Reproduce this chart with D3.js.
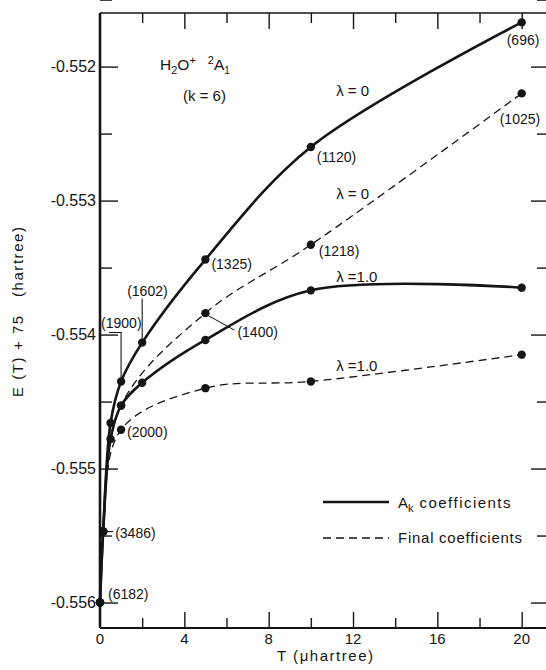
<!DOCTYPE html>
<html>
<head>
<meta charset="utf-8">
<script src="https://cdn.jsdelivr.net/npm/d3@7"></script>
<style>
  html, body { margin: 0; padding: 0; background: #fff; }
  svg { display: block; }
  text { font-family: "Liberation Sans", Arial, sans-serif; fill: #151515; }
</style>
</head>
<body>
<div id="chart"></div>
<script>
// Threshold T (microhartree) and energies E(T)+75 (hartree)
const tAkLambda0 = [0, 0.15, 0.5, 1, 2, 5, 10, 20];
const eAkLambda0 = [-0.55600, -0.55547, -0.55466, -0.55435, -0.55406, -0.55344, -0.55260, -0.55167];

const tAkLambda1 = [0, 0.15, 0.5, 1, 2, 5, 10, 20];
const eAkLambda1 = [-0.55600, -0.55547, -0.55478, -0.55453, -0.55436, -0.55404, -0.55367, -0.55365];

const tFinalLambda0 = [0, 0.15, 1, 5, 10, 20];
const eFinalLambda0 = [-0.55600, -0.55547, -0.55453, -0.55384, -0.55333, -0.55220];

const tFinalLambda1 = [0, 0.15, 1, 5, 10, 20];
const eFinalLambda1 = [-0.55600, -0.55547, -0.55471, -0.55440, -0.55435, -0.55415];

// Number of selected configurations written beside points
const configCounts = [6182, 3486, 1900, 1602, 1325, 1120, 696, 1400, 1218, 1025, 2000];

// Axis ticks
const xMajorTicks = [0, 4, 8, 12, 16, 20];
const xMinorTicks = [2, 6, 10, 14, 18];
const yMajorTicks = [-0.552, -0.553, -0.554, -0.555, -0.556];
const yMinorTicks = [-0.5515, -0.5525, -0.5535, -0.5545, -0.5555];

const legendLabels = ["coefficients", "Final coefficients"];

const W = 546, H = 670;
const svg = d3.select("#chart").append("svg")
  .attr("width", W).attr("height", H);

const x = d3.scaleLinear().domain([0, 21.2]).range([100, 547]);
const y = d3.scaleLinear().domain([-0.55619, -0.55160]).range([628, 13]);

const ink = "#151515";

// Frame
const frame = svg.append("g").attr("stroke", ink).attr("fill", "none");
frame.append("line").attr("x1", x(0)).attr("x2", x(21.2)).attr("y1", y.range()[1]).attr("y2", y.range()[1]).attr("stroke-width", 1.6);
frame.append("line").attr("x1", x(0)).attr("x2", x(21.2)).attr("y1", y.range()[0]).attr("y2", y.range()[0]).attr("stroke-width", 2.2);
frame.append("line").attr("x1", x(0)).attr("x2", x(0)).attr("y1", y.range()[1]).attr("y2", y.range()[0]).attr("stroke-width", 2.6);
frame.append("line").attr("x1", x(21.2)).attr("x2", x(21.2)).attr("y1", y.range()[1]).attr("y2", y.range()[0]).attr("stroke-width", 2);

// Axes built from d3 axis generators, ticks pointing inward
const majorLen = 16, minorLen = 10;
function styleAxis(g) {
  g.select(".domain").remove();
  g.selectAll(".tick line").attr("stroke", ink).attr("stroke-width", 1.4);
}
svg.append("g").attr("transform", `translate(0,${y.range()[0]})`)
  .call(d3.axisBottom(x).tickValues(xMajorTicks.filter(d => d > 0)).tickSize(-majorLen).tickFormat(""))
  .call(styleAxis);
svg.append("g").attr("transform", `translate(0,${y.range()[0]})`)
  .call(d3.axisBottom(x).tickValues(xMinorTicks).tickSize(-minorLen).tickFormat(""))
  .call(styleAxis);
svg.append("g").attr("transform", `translate(0,${y.range()[1]})`)
  .call(d3.axisTop(x).tickValues(xMajorTicks.filter(d => d > 0)).tickSize(-majorLen).tickFormat(""))
  .call(styleAxis);
svg.append("g").attr("transform", `translate(0,${y.range()[1]})`)
  .call(d3.axisTop(x).tickValues(xMinorTicks).tickSize(-minorLen).tickFormat(""))
  .call(styleAxis);
svg.append("g").attr("transform", `translate(${x(0)},0)`)
  .call(d3.axisLeft(y).tickValues(yMajorTicks).tickSize(-18).tickFormat(""))
  .call(styleAxis);
svg.append("g").attr("transform", `translate(${x(0)},0)`)
  .call(d3.axisLeft(y).tickValues(yMinorTicks).tickSize(-12).tickFormat(""))
  .call(styleAxis);
svg.append("g").attr("transform", `translate(${x(21.2)},0)`)
  .call(d3.axisRight(y).tickValues(yMajorTicks).tickSize(-majorLen).tickFormat(""))
  .call(styleAxis);
svg.append("g").attr("transform", `translate(${x(21.2)},0)`)
  .call(d3.axisRight(y).tickValues(yMinorTicks).tickSize(-minorLen).tickFormat(""))
  .call(styleAxis);

// Tick labels
svg.append("g").selectAll("text").data(xMajorTicks).join("text")
  .attr("x", d => x(d)).attr("y", 644)
  .attr("text-anchor", "middle").attr("font-size", 15)
  .text(d => d);
svg.append("g").selectAll("text").data(yMajorTicks).join("text")
  .attr("x", 96).attr("y", d => y(d)).attr("dy", "0.36em")
  .attr("text-anchor", "end").attr("font-size", 16)
  .text(d => "-" + d3.format(".3f")(Math.abs(d)));

// Axis titles
svg.append("text")
  .attr("x", 325).attr("y", 661).attr("text-anchor", "middle").attr("font-size", 15)
  .attr("textLength", 96).attr("lengthAdjust", "spacing")
  .text("T  (\u03BChartree)");
svg.append("text")
  .attr("transform", "translate(23,312) rotate(-90)")
  .attr("text-anchor", "middle").attr("font-size", 15)
  .attr("textLength", 170).attr("lengthAdjust", "spacing")
  .attr("xml:space", "preserve")
  .text("E (T) + 75   (hartree)");

// Curves
const series = [
  { t: tAkLambda0, e: eAkLambda0, dash: null, width: 2.6 },
  { t: tAkLambda1, e: eAkLambda1, dash: null, width: 2.6 },
  { t: tFinalLambda0, e: eFinalLambda0, dash: "8,5", width: 1.3 },
  { t: tFinalLambda1, e: eFinalLambda1, dash: "8,5", width: 1.3 }
];
const line = d3.line()
  .x(d => x(d[0])).y(d => y(d[1]))
  .curve(d3.curveCatmullRom.alpha(0.5));

series.forEach(s => {
  const pts = s.t.map((t, i) => [t, s.e[i]]);
  svg.append("path").datum(pts)
    .attr("d", line)
    .attr("fill", "none").attr("stroke", ink)
    .attr("stroke-width", s.width)
    .attr("stroke-dasharray", s.dash)
    .attr("stroke-linejoin", "round");
  svg.append("g").selectAll("circle").data(pts).join("circle")
    .attr("cx", d => x(d[0])).attr("cy", d => y(d[1]))
    .attr("r", 4.2).attr("fill", ink);
});

// Configuration-count labels tied to their points
const pt = (s, i) => [x(s.t[i]), y(s.e[i])];
const [sA0, sA1, sF0, sF1] = series;
const annotations = [
  { at: pt(sA0, 0), n: 0, dx: 8, dy: -4 },
  { at: pt(sA0, 1), n: 1, dx: 12, dy: 6, leader: [[1, 0], [10, 0]] },
  { at: pt(sA0, 3), n: 2, dx: -20, dy: -53, leader: [[-12, -49], [0, -49], [0, -3]] },
  { at: pt(sA0, 4), n: 3, dx: -15, dy: -47, leader: [[0, -44], [0, -3]] },
  { at: pt(sA0, 5), n: 4, dx: 6, dy: 9 },
  { at: pt(sA0, 6), n: 5, dx: 6, dy: 15 },
  { at: pt(sA0, 7), n: 6, dx: -15, dy: 23 },
  { at: pt(sF0, 3), n: 7, dx: 32, dy: 24, leader: [[2, 2], [29, 17]] },
  { at: pt(sF0, 4), n: 8, dx: 8, dy: 11 },
  { at: pt(sF0, 5), n: 9, dx: -22, dy: 31 },
  { at: pt(sF1, 2), n: 10, dx: 6, dy: 7 }
];
const ann = svg.append("g");
annotations.forEach(a => {
  if (a.leader) {
    ann.append("polyline")
      .attr("points", a.leader.map(p => [a.at[0] + p[0], a.at[1] + p[1]].join(",")).join(" "))
      .attr("fill", "none").attr("stroke", ink).attr("stroke-width", 1.1);
  }
  ann.append("text")
    .attr("x", a.at[0] + a.dx).attr("y", a.at[1] + a.dy)
    .attr("font-size", 14)
    .text(`(${configCounts[a.n]})`);
});

// Curve labels
const lambdaLabels = [
  { t: 11.2, e: -0.55222, txt: "\u03BB = 0" },
  { t: 11.2, e: -0.55299, txt: "\u03BB = 0" },
  { t: 11.2, e: -0.55361, txt: "\u03BB =1.0" },
  { t: 11.2, e: -0.55427, txt: "\u03BB =1.0" }
];
svg.append("g").selectAll("text").data(lambdaLabels).join("text")
  .attr("x", d => x(d.t)).attr("y", d => y(d.e))
  .attr("font-size", 15)
  .attr("xml:space", "preserve")
  .text(d => d.txt);

// Title
const title = svg.append("text").attr("x", 160).attr("y", 70).attr("font-size", 15.5);
title.append("tspan").text("H");
title.append("tspan").attr("font-size", 11).attr("dy", 4).text("2");
title.append("tspan").attr("dy", -4).text("O");
title.append("tspan").attr("font-size", 11).attr("dy", -6).text("+");
title.append("tspan").attr("font-size", 11).attr("dx", 12).text("2");
title.append("tspan").attr("dy", 6).text("A");
title.append("tspan").attr("font-size", 10).attr("dy", 4).text("1");
svg.append("text").attr("x", 183).attr("y", 101).attr("font-size", 15).text("(k = 6)");

// Legend
const legend = svg.append("g");
legend.append("line").attr("x1", 323).attr("x2", 389).attr("y1", 502).attr("y2", 502)
  .attr("stroke", ink).attr("stroke-width", 2.6);
legend.append("line").attr("x1", 323).attr("x2", 389).attr("y1", 538).attr("y2", 538)
  .attr("stroke", ink).attr("stroke-width", 1.3).attr("stroke-dasharray", "8,5");
const lt = legend.append("text").attr("x", 398).attr("y", 508).attr("font-size", 15);
lt.append("tspan").text("A");
lt.append("tspan").attr("font-size", 11).attr("dy", 4).text("k");
lt.append("tspan").attr("dy", -4).attr("dx", 6).attr("textLength", 91).attr("lengthAdjust", "spacing").text(legendLabels[0]);
legend.append("text").attr("x", 398).attr("y", 543).attr("font-size", 15)
  .attr("textLength", 124).attr("lengthAdjust", "spacing")
  .text(legendLabels[1]);
</script>
</body>
</html>
